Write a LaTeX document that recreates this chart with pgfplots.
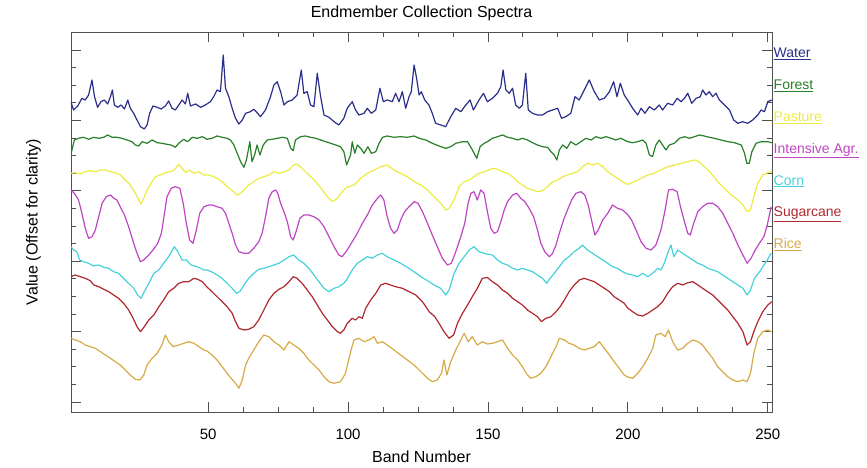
\documentclass[border=0pt]{standalone}
\usepackage{fontspec}
\setmainfont{Liberation Sans}
\usepackage{pgfplots}
\pgfplotsset{compat=1.18}
\definecolor{cwater}{RGB}{42,46,140}
\definecolor{cforest}{RGB}{40,128,40}
\definecolor{cpasture}{RGB}{236,236,64}
\definecolor{cint}{RGB}{190,70,195}
\definecolor{ccorn}{RGB}{70,210,220}
\definecolor{csugar}{RGB}{175,40,45}
\definecolor{crice}{RGB}{215,170,70}
\definecolor{caxis}{RGB}{80,80,80}
\begin{document}
\begin{tikzpicture}
\useasboundingbox (-71pt,-56pt) rectangle (796pt,412pt);
\begin{axis}[
  scale only axis, width=701pt, height=380pt,
  xmin=1, xmax=251.5, ymin=0, ymax=380,
  axis line style={draw=caxis, line width=0.9pt},
  tick style={draw=caxis, line width=0.9pt},
  tick align=inside, tick pos=both,
  xtick={50,100,150,200,250}, minor x tick num=3,
  ytick={10,80.4,150.8,221.2,291.6,362}, minor y tick num=3,
  yticklabels={},
  major tick length=10pt, minor tick length=5pt,
  /pgf/number format/assume math mode=true,
  xticklabel style={font=\fontsize{15}{18}\selectfont, yshift=-13pt},
  title={Endmember Collection Spectra},
  title style={font=\fontsize{16}{19}\selectfont, yshift=1.5pt},
  xlabel={Band Number},
  xlabel style={font=\fontsize{16}{19}\selectfont, at={(axis description cs:0.5,0)}, anchor=north, yshift=-35pt},
  ylabel={Value (Offset for clarity)},
  ylabel style={font=\fontsize{16}{19}\selectfont, at={(axis description cs:-0.038,0.5)}, anchor=south},
  every axis plot/.append style={line width=1.2pt, line join=round},
  legend image code/.code={},
  legend style={draw=none, fill=none, at={(1,0.965)}, anchor=north west,
    font=\fontsize{14}{17}\selectfont, row sep=15.4pt, inner xsep=0pt, inner ysep=0pt,
    nodes={inner sep=1.5pt, text height=10.5pt, text depth=3pt}},
  legend cell align=left,
]
\addplot[cwater] coordinates {
(1,310) (1.9,302) (3.4,306) (4.9,313.7) (6.1,312) (7.3,317) (8.5,332) (9.4,315.3) (10.5,304.7) (11.7,310.3) (12.9,312) (14.1,308) (15.1,315.3) (15.8,322) (16.5,307) (17.7,304.7) (18.9,307) (20.1,303) (21.3,312) (22.2,303.7) (23.4,298.7) (24.6,292) (25.8,285.3) (27.2,283) (28.2,287) (29.1,298.7) (30.3,306) (31.8,304.7) (33.2,303) (34.7,306) (35.9,311) (37.1,303.7) (38.3,302) (39.5,307) (40.7,312) (41.9,308) (42.7,318.7) (43.7,306) (45.5,308) (47.3,304.7) (49.0,307)
(50.8,310.3) (52.0,315.3) (53.2,322) (54.4,320.3) (55.4,357) (56.2,323.7) (57.4,315.3) (58.6,303.7) (59.8,293.7) (61.0,288) (62.2,292) (63.4,298.7) (65.1,300.3) (66.3,302.7) (67.5,299.3) (68.7,295.3) (70.5,302) (72.3,315.3) (73.5,327) (74.7,330.3) (75.9,320.3) (77.1,307) (78.3,310.3) (80.1,312) (81.8,317) (83.3,342) (84.2,318.7) (85.4,320.3) (86.6,307) (87.8,305.3) (89.0,338.7) (90.2,315.3) (91.4,297) (93.2,294.7) (95.0,290.3) (96.7,287) (98.5,293.7)
(99.7,303.7) (101.5,310.3) (102.7,302) (103.9,297) (105.7,298.7) (106.9,303.7) (108.3,298.7) (109.9,302) (111.4,323.7) (112.6,310.3) (114.0,312) (115.8,310.3) (117.0,318.7) (118.2,310.3) (119.4,320.3) (120.6,303.7) (121.8,315.3) (122.6,320.3) (123.6,347) (124.5,333.7) (125.4,317) (126.2,320.3) (127.4,312) (128.9,307) (130.1,298.7) (131.3,288.7) (133.1,287) (134.9,285.3) (136.7,295.3) (138.5,303.7) (140.3,300.3) (142.1,307) (143.6,312) (144.8,302) (146.8,312) (148.4,318.7)
(149.8,310.3) (151.6,313.7) (153.4,318.7) (154.6,325.3) (155.4,342) (156.4,322) (157.6,318.7) (158.8,323.7) (159.9,307) (161.2,303.7) (162.3,307) (163.5,338.7) (164.4,302) (165.9,298.7) (167.7,297) (169.5,297) (171.3,300.3) (173.1,302) (174.9,303.7) (176.3,293.7) (177.8,295.3) (179.6,298.7) (181.1,315.3) (182.6,312) (184.4,322) (186.2,332) (188.0,320.3) (189.8,312) (191.6,313.7) (193.4,320.3) (194.9,330.3) (196.1,315.3) (197.3,328.7) (198.7,317)
(199.9,312) (201.7,303.7) (203.5,297) (204.7,303.7) (206.1,298.7) (207.7,305.3) (209.4,302) (211.2,307) (212.4,302) (214.2,308.7) (216.0,307) (217.6,313.7) (219.0,310.3) (220.2,313.7) (221.4,318.7) (222.8,308.7) (224.4,313.7) (225.9,315.3) (226.7,322) (227.9,317) (229.1,320.3) (230.3,315.3) (231.5,318.7) (232.7,312) (234.5,307) (236.3,302) (237.8,292) (239.3,288.7) (241.0,290.3) (242.8,288.7) (244.6,292) (246.4,297) (247.6,302) (248.8,300.3) (250.0,310.3) (251.4,312)
};
\addlegendentry{\textcolor{cwater}{\underline{Water}}}
\addplot[cforest] coordinates {
(1,258) (2.2,272) (3.7,273.7) (5.5,274.7) (7.3,272.7) (9.1,274.7) (10.9,273.7) (12.7,274.7) (14.1,277) (15.7,274.7) (17.4,274.7) (19.2,273.7) (21.0,272) (22.8,270.3) (24.0,267) (25.2,266) (26.4,270.3) (28.2,268.7) (30.0,272) (31.8,269.3) (33.5,268.7) (35.3,267.7) (36.8,267) (38.3,264.7) (39.5,268.7) (41.3,272.7) (42.7,270.3) (44.3,274.7) (46.1,273.7) (47.9,275.3) (49.6,272.7)
(51.4,273.7) (53.2,276) (55.0,274.7) (56.8,273.7) (58.0,272) (59.2,267) (60.4,258.7) (61.6,250.3) (62.8,244.7) (63.7,252) (64.9,270.3) (65.7,250.3) (66.6,257) (67.5,267) (68.5,257) (69.7,267) (71.1,272) (72.9,272.7) (74.7,273.7) (76.5,274.7) (78.3,273.7) (79.5,263.7) (80.4,261.3) (81.2,272) (83.0,275.3) (84.8,276) (86.6,274.7) (88.4,273.7) (90.2,272) (92.0,270.3) (93.8,268.7) (95.6,267) (97.3,265.3) (98.5,260.3) (99.5,247)
(100.9,257) (101.5,270.3) (102.4,258.7) (103.3,267) (104.5,263.7) (105.7,258.7) (107.1,265.3) (108.3,258.7) (109.9,260.3) (111.1,268.7) (112.3,274.7) (114.0,276) (116.4,274.7) (118.8,275.3) (121.2,274.7) (123.6,276) (125.4,273.7) (127.8,272) (130.1,268.7) (132.5,266) (134.9,263.7) (136.7,265.3) (138.5,268.7) (140.9,270.3) (142.7,270.3) (144.1,263.7) (146.0,253.7) (147.2,265.3) (148.6,268.7)
(149.8,270.3) (151.6,273.7) (153.4,275.3) (155.2,277) (157.0,274.7) (158.8,273.7) (160.6,272) (162.3,273.7) (164.1,272) (165.9,269.3) (167.7,267) (169.5,265.3) (171.3,264.7) (172.5,260.3) (173.7,257) (174.6,252) (175.5,262) (176.7,267) (178.2,263.7) (179.6,270.3) (181.4,267) (183.2,270.3) (185.0,273.7) (186.8,272) (188.6,275.3) (190.4,273.7) (192.2,275.3) (194.0,273.7) (195.7,272) (197.5,273.7)
(199.9,270.3) (201.7,269.3) (203.5,270.3) (205.3,272) (206.5,268.7) (207.7,257) (208.8,255.3) (210.0,267) (211.2,272) (212.4,267) (213.6,262) (214.8,267) (216.6,268.7) (218.4,273.7) (220.2,275.3) (222.0,273.7) (223.8,275.3) (225.5,277) (227.3,276) (229.1,274.7) (230.9,273.7) (233.3,272) (235.7,270.3) (238.1,269.3) (240.5,267) (241.7,258.7) (242.5,248.7) (243.4,248.7) (244.3,260.3) (245.8,268.7) (247.6,270.3) (250.0,270.3) (251.4,269.3)
};
\addlegendentry{\textcolor{cforest}{\underline{Forest}}}
\addplot[cpasture] coordinates {
(1,238.7) (2.5,239.3) (4.3,238) (6.1,240.3) (7.9,241.3) (9.7,240.3) (11.5,242) (13.3,242) (15.1,240.3) (16.8,239.3) (18.6,237) (20.4,232) (22.2,227) (24.0,218.7) (25.2,212) (26.0,208) (27.0,213.7) (28.2,222) (29.6,228.7) (31.2,235.3) (32.9,237) (34.7,239.3) (36.5,240.3) (37.9,242) (39.5,247.7) (40.7,243.7) (41.9,239.3) (43.4,242) (44.9,238.7) (46.7,240.3) (48.5,237)
(50.2,237) (51.4,236) (53.2,233.7) (55.0,230.3) (56.8,225.3) (58.6,221.3) (60.4,217) (61.6,218.7) (63.0,222.7) (64.5,227) (66.3,230.3) (68.1,233.7) (69.9,235.3) (71.7,237) (73.5,240.3) (75.3,238.7) (77.1,240.3) (78.9,242) (80.6,247) (81.8,248) (83.6,243.7) (85.4,238.7) (87.2,233.7) (89.0,228.7) (90.8,222) (92.6,215.3) (94.4,210.3) (96.2,213.7) (97.9,220.3) (99.7,225)
(102.1,227) (104.5,233.7) (106.9,238.7) (109.3,242) (111.7,245.3) (114.0,247) (116.4,242) (118.8,238.7) (121.2,235.3) (123.6,230.3) (126.0,227) (128.4,222) (130.7,215.3) (133.1,208.7) (134.9,202) (136.1,203.7) (137.9,212) (139.7,225.3) (141.5,230.3) (143.3,232) (145.0,235.3) (146.8,238.7) (148.6,240.3)
(150.4,242) (151.6,243.7) (153.4,242.7) (155.2,240.3) (157.0,238.7) (158.8,235.3) (160.6,230.3) (162.3,227) (164.1,223.7) (165.9,222) (167.7,220.3) (169.5,221.3) (171.3,225.3) (173.1,230.3) (174.9,232) (176.7,235.3) (178.4,237) (180.2,238.7) (182.0,240.3) (183.8,245.3) (185.6,248.7) (187.4,247) (189.2,248.7) (191.0,245.3) (192.8,240.3) (194.5,237) (196.3,233.7) (198.1,230.3)
(199.9,227.5) (202.3,230.3) (204.7,233.7) (207.1,237) (209.4,238.7) (211.8,242) (214.2,245.3) (216.6,247) (219.0,248.7) (221.4,250.3) (223.8,252) (225.5,250.3) (227.3,245.3) (229.7,238.7) (232.1,230.3) (234.5,223.7) (236.9,217) (239.3,212) (241.1,207) (242.6,200.3) (243.8,202) (245.0,215.3) (246.4,228.7) (248.2,237) (250.0,239.3) (251.4,240.3)
};
\addlegendentry{\textcolor{cpasture}{\underline{Pasture}}}
\addplot[cint] coordinates {
(1,222) (2.2,218.7) (3.7,212) (4.9,198.7) (6.1,183.7) (7.3,173.7) (8.5,175.3) (9.7,182) (10.9,195.3) (12.1,208.7) (13.6,215.3) (15.1,217) (16.3,213.7) (17.4,212) (18.6,205.3) (20.1,197) (21.6,185.3) (23.4,168.7) (24.6,158.7) (25.8,150.3) (27.0,152) (28.8,157) (30.3,162) (32.0,168.7) (33.3,178.7) (34.4,198.7) (35.3,215.3) (36.8,223.7) (38.3,225.3) (39.9,223.7) (41.1,208.7) (42.2,188.7) (43.4,172) (44.6,168.7) (45.8,182) (47.0,198.7) (48.5,205.3)
(50.2,207) (51.4,207) (53.2,205.3) (55.0,203.7) (56.2,198.7) (57.4,188.7) (58.6,178.7) (59.8,167) (61.0,160.3) (62.8,158.7) (64.5,158.7) (66.3,163.7) (68.1,170.3) (69.3,178.7) (70.5,195.3) (71.7,213.7) (72.9,220.3) (74.1,222) (74.9,218.7) (75.9,208.7) (77.1,200.3) (78.3,190.3) (79.5,175.3) (80.4,172) (81.6,182) (82.8,193.7) (84.2,197) (86.0,197) (87.8,195.3) (89.6,192) (91.4,185.3) (93.2,175.3) (95.0,165.3) (96.7,157) (97.9,155.3)
(99.7,162) (101.5,170.3) (103.3,178.7) (105.1,188.7) (106.9,197) (108.7,207) (110.5,213.7) (111.7,217) (112.8,212) (114.0,195.3) (115.2,183.7) (116.4,178.7) (117.6,182) (118.8,192) (120.2,200.3) (121.8,205.3) (123.6,210.3) (125.0,208.7) (126.6,200.3) (128.4,188.7) (130.1,177) (131.9,165.3) (133.7,153.7) (135.5,147) (136.9,148.7) (138.5,160.3) (140.3,175.3) (141.7,188.7) (142.9,208.7) (143.9,218.7) (145.0,220.3) (146.2,212) (147.4,222) (148.6,218.7) (149.8,200.3)
(151.0,183.7) (152.2,178.7) (153.4,180.3) (154.6,190.3) (155.8,202) (157.0,210.3) (158.8,217) (160.3,218.7) (161.7,213.7) (163.2,210.3) (164.7,203.7) (166.3,195.3) (167.7,182) (168.9,168.7) (170.3,160.3) (171.9,155.3) (173.1,158.7) (174.3,167) (175.5,178.7) (177.0,192) (178.4,202) (179.9,212) (181.4,218.7) (183.2,220.3) (184.6,217) (185.8,207) (187.0,192) (188.2,177) (189.4,182) (191.0,192) (192.8,198.7) (194.5,207) (196.3,203.7) (198.1,202)
(199.9,197.5) (201.3,192) (202.9,182) (204.7,170.3) (206.5,163.7) (208.3,162) (210.0,167) (211.8,182) (213.3,202) (214.5,222) (216.0,222.7) (217.6,220.3) (218.8,205.3) (220.2,190.3) (221.4,178.7) (222.3,177) (223.5,188.7) (225.0,200.3) (226.7,205.3) (228.5,208.7) (230.3,208.7) (232.1,205.3) (233.9,198.7) (235.7,188.7) (237.5,178.7) (239.3,167) (241.1,157) (242.6,148.7) (244.0,153.7) (245.5,162) (247.0,168.7) (248.6,175.3) (249.8,187) (251.2,205.3)
};
\addlegendentry{\textcolor{cint}{\underline{Intensive Agr.}}}
\addplot[ccorn] coordinates {
(1,165.3) (1.9,162) (3.1,160.3) (4.1,152) (5.5,150.3) (7.3,148.7) (9.1,146) (10.9,147) (12.7,144.7) (14.5,143.7) (16.2,140.3) (18.0,138.7) (19.8,133.7) (21.6,128.7) (23.4,123.7) (24.8,117) (26.0,113.7) (27.2,120.3) (28.8,128.7) (30.6,138.7) (32.4,142) (34.1,148.7) (35.9,155.3) (37.9,165.3) (39.2,160.3) (40.7,152) (42.2,152) (43.9,147) (46.1,145.3) (48.5,142)
(49.6,142) (51.4,140) (53.2,137) (55.0,133.7) (56.8,128.7) (58.6,123.7) (60.1,118.7) (61.3,120.3) (62.8,127) (64.5,133.7) (66.3,138.7) (68.1,142.7) (69.9,143.7) (71.7,145.3) (73.5,147) (75.3,148.7) (77.1,152) (78.9,155.3) (80.6,157) (82.4,152) (84.2,148.7) (86.0,143.7) (87.8,137) (89.6,130.3) (91.4,123.7) (93.2,120.3) (95.0,123.7) (96.7,125.3) (98.5,128.7)
(99.7,133) (101.5,142) (103.3,148.7) (105.1,152) (106.9,155.3) (108.7,153.7) (110.5,157) (112.2,158.7) (114.0,155.3) (116.4,152) (118.8,148.7) (121.2,144.7) (123.6,140.3) (126.0,135.3) (128.4,131.3) (130.7,127) (133.1,123.7) (134.9,117) (136.1,122) (137.9,138.7) (139.7,148.7) (141.5,155.3) (143.3,162) (145.0,165.3) (146.8,160.3) (148.6,158.7)
(150.4,157.5) (151.6,157) (153.4,152) (155.2,148.7) (157.0,147) (158.8,143.7) (160.6,142) (162.3,143.7) (164.1,142) (165.9,140.3) (167.7,137) (169.5,133.7) (171.0,128.7) (172.2,133.7) (173.7,138.7) (175.5,145.3) (177.3,152) (179.0,155.3) (180.8,160.3) (182.6,163.7) (183.8,167) (185.6,162) (187.4,158.7) (189.2,155.3) (191.0,152) (192.8,148.7) (194.5,145.3) (196.3,143.7) (198.1,140.3)
(199.9,138) (201.7,137) (203.5,135.3) (205.3,138.7) (207.1,135.3) (208.9,138.7) (210.6,143.7) (211.8,142) (213.0,148.7) (214.2,158.7) (215.4,167) (216.4,155.3) (217.8,162) (219.6,158.7) (221.4,155.3) (223.2,152) (225.0,148.7) (226.7,147) (228.5,143.7) (230.3,142) (232.1,140.3) (233.9,137) (235.7,133.7) (237.5,130.3) (239.3,127) (241.1,123.7) (242.6,117) (243.8,122) (245.2,133.7) (246.7,138.7) (248.2,145.3) (249.8,152) (251.2,158.7)
};
\addlegendentry{\textcolor{ccorn}{\underline{Corn}}}
\addplot[csugar] coordinates {
(1,135.3) (2.5,137) (4.3,135.3) (6.1,133.7) (7.9,131.3) (9.1,127) (10.9,125.3) (12.7,122.7) (14.5,120.3) (16.2,117) (18.0,113.7) (19.8,108.7) (21.6,102) (23.2,93.7) (24.6,85.3) (25.8,80.3) (27.2,85.3) (28.8,92) (30.6,97) (32.4,105.3) (34.1,112) (35.9,120.3) (37.7,123.7) (39.5,128.7) (41.3,130.3) (43.1,130.3) (44.9,133.7) (46.3,132.7) (47.9,130.3) (49.6,125)
(51.4,120.3) (53.2,115.3) (55.0,110.3) (56.8,105.3) (58.6,98.7) (59.8,90.3) (61.0,83.7) (62.8,82) (64.5,82.7) (66.3,85.3) (68.1,92) (69.9,102) (71.7,112) (73.5,118.7) (75.3,122.7) (77.1,125.3) (78.9,130.3) (80.4,135.3) (81.8,133.7) (83.6,128.7) (85.4,122) (87.2,115.3) (89.0,107) (90.8,98.7) (92.6,92) (94.4,85.3) (96.2,80.3) (97.3,78.7) (98.5,82)
(99.7,88.7) (101.5,93.7) (102.7,92) (103.9,95.3) (105.1,93.7) (106.3,103.7) (108.1,112) (109.9,118.7) (111.7,127) (113.4,128.7) (115.2,127) (117.0,125.3) (119.4,123.7) (121.8,120.3) (124.2,117) (126.6,110.3) (129.0,100.3) (131.0,95.3) (132.5,88.7) (134.3,80.3) (136.1,73.7) (137.7,77) (139.1,88.7) (140.9,98.7) (142.7,107) (144.4,115.3) (146.2,123.7) (148.0,133.7) (149.8,134.5)
(151.6,130.3) (153.4,127) (155.2,122) (157.0,118.7) (158.8,113.7) (160.6,110.3) (162.3,107) (164.1,102) (165.9,98.7) (167.7,95.3) (169.1,90.3) (170.7,93.7) (172.5,95.3) (174.3,100.3) (175.8,105.3) (177.3,112) (179.0,120.3) (180.8,127) (182.6,132) (184.4,133.7) (186.2,132) (188.0,130.3) (189.8,127) (191.6,123.7) (193.4,120.3) (195.1,115.3) (196.9,112) (198.7,108.7)
(199.9,104) (201.7,100.3) (203.5,97) (205.3,96) (207.1,98.7) (208.9,102) (210.6,105.3) (212.4,110.3) (214.2,118.7) (216.0,125.3) (217.8,128.7) (219.6,127) (221.4,129.3) (223.2,130.3) (225.0,127) (226.7,123.7) (228.5,120.3) (230.3,117) (232.1,112) (233.9,107) (235.7,102) (237.5,95.3) (239.3,88.7) (241.1,80.3) (242.6,67) (243.8,70.3) (245.2,82) (246.7,92) (248.2,100.3) (250.0,107) (251.4,110.3)
};
\addlegendentry{\textcolor{csugar}{\underline{Sugarcane}}}
\addplot[crice] coordinates {
(1,73.7) (2.5,72) (4.3,70.3) (6.1,67) (7.9,65.3) (9.7,63.7) (11.5,60.3) (13.3,57) (15.1,53.7) (16.8,50.3) (18.6,47) (20.4,42) (22.2,37) (24.0,32.7) (25.6,32) (27.0,37) (28.2,47) (30.0,53.7) (31.8,58.7) (33.5,67) (34.7,77) (35.9,70.3) (37.5,65.3) (39.5,67) (41.3,68.7) (43.1,70.3) (44.9,68.7) (46.7,65.3) (48.5,62)
(49.6,61) (51.4,57) (53.2,52) (55.0,45.3) (56.8,38.7) (58.2,33.7) (59.8,28.7) (61.0,23.7) (62.2,32) (63.4,47) (64.5,53.7) (66.3,62) (68.1,70.3) (69.9,77) (71.7,75.3) (73.5,70.3) (75.3,67) (77.1,62) (78.9,70.3) (80.6,67) (82.4,63.7) (84.2,58.7) (86.0,52) (87.8,47) (89.6,42) (91.4,35.3) (93.2,30.3) (95.0,28.7) (97.3,30.3) (99.1,38.7)
(100.9,60) (102.1,72) (103.9,73.7) (105.7,70.3) (107.5,72) (109.3,75.3) (110.5,68.7) (112.2,70.3) (114.0,67) (116.4,62) (118.8,57) (121.2,52) (123.6,47) (126.0,40.3) (128.4,33.7) (130.1,30.3) (131.9,32) (133.4,38.7) (134.3,52) (135.3,37) (136.7,50.3) (138.5,62) (140.3,72) (141.5,78.7) (142.9,70.3) (144.4,75.3) (146.2,67) (148.0,70.3) (149.8,68)
(151.6,68.7) (153.4,70.3) (155.2,72) (157.0,63.7) (158.8,57) (160.6,52) (162.3,45.3) (164.1,37) (165.3,33.7) (167.1,35.3) (168.9,38.7) (170.7,45.3) (172.5,55.3) (174.3,65.3) (175.5,73.7) (177.3,72) (179.0,68.7) (180.8,67) (182.6,63.7) (184.4,62) (186.2,63.7) (188.0,65.3) (189.8,70.3) (191.6,63.7) (193.4,57) (195.1,50.3) (196.9,43.7) (198.7,37)
(199.9,35) (201.7,33.7) (203.5,38.7) (205.3,45.3) (207.1,53.7) (208.9,63.7) (210.0,77) (211.8,78.7) (213.3,75.3) (214.5,82) (216.0,70.3) (217.8,62) (219.6,63.7) (221.4,68.7) (223.2,72) (225.0,70.3) (226.7,67) (228.5,60.3) (230.3,53.7) (232.1,45.3) (233.9,40.3) (235.7,35.3) (237.5,32) (239.3,30.3) (241.1,32) (242.6,30.3) (243.8,38.7) (245.0,58.7) (246.4,73.7) (248.2,80.3) (250.0,82) (251.4,80)
};
\addlegendentry{\textcolor{crice}{\underline{Rice}}}
\end{axis}
\end{tikzpicture}
\end{document}
